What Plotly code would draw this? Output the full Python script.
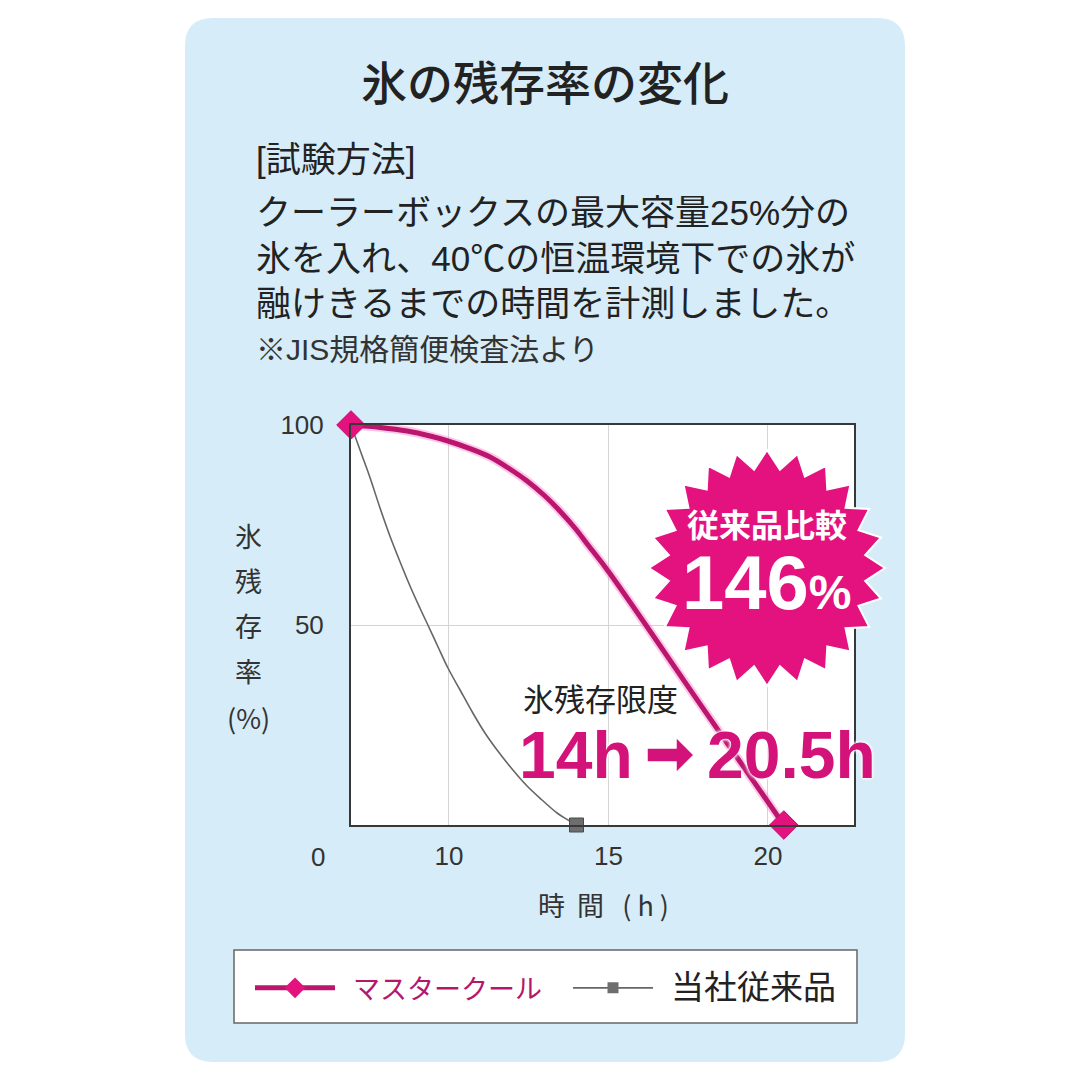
import numpy as np
import plotly.graph_objects as go

W = H = 1080

# ---------------- data ----------------
pink_time = [0, 7.84, 8.69, 9.41, 9.97, 10.66, 11.29, 11.91, 12.45, 13.01, 13.39, 13.95, 14.36,
             14.99, 17.87, 20.5]
pink_ice = [100, 99.4, 98.5, 97.25, 96.0, 94.1, 92.0, 89.0, 86.0, 82.25, 79.25, 74.25, 70.0,
            63.5, 30.3, 0]
gray_time = [0, 7.27, 7.53, 7.84, 8.15, 8.47, 8.78, 9.09, 9.34, 9.66, 9.97, 10.35, 10.75,
             11.13, 11.51, 11.98, 12.45, 12.92, 13.39, 13.70, 14.0]
gray_ice = [100, 92.5, 86.75, 79.25, 72.25, 65.75, 59.75, 54.25, 50.0, 44.5, 39.25, 33.75, 28.0,
            23.0, 18.75, 14.0, 9.75, 6.25, 3.0, 1.4, 0]
x_tick_vals = [10, 15, 20]
y_tick_vals = [50, 100]
series_names = ["マスタークール", "当社従来品"]
limit_label = "氷残存限度"
limit_before, limit_after = "14h", "20.5h"
compare_label, compare_value = "従来品比較", "146"

title_text = "氷の残存率の変化"
method_heading = "[試験方法]"
method_lines = [
    "クーラーボックスの最大容量25%分の",
    "氷を入れ、40℃の恒温環境下での氷が",
    "融けきるまでの時間を計測しました。",
]
note_text = "※JIS規格簡便検査法より"
y_title_chars = ["氷", "残", "存", "率", "(%)"]
x_title = "時&nbsp;&nbsp;間&nbsp;&nbsp;&nbsp;(&nbsp;h&nbsp;)"

# ---------------- styling ----------------
PINK_LINE = "#bb166e"
PINK = "#e3127f"
PINK_TEXT = "#d4137a"
GRAY = "#666666"
TXT = "#222222"
PANEL = "#d6ecf8"
CJK = "Noto Sans CJK JP"
LAT = "Liberation Sans, Noto Sans CJK JP"

# the time axis is broken: 0 h is drawn at the left edge of the frame
AXIS_BREAK = 6.93
X_MAX = 22.7


def brk(ts):
    return [AXIS_BREAK if t == 0 else t for t in ts]


def px(x):
    return x / W


def py(y):
    return 1 - y / H


def pt(x, y):
    return f"{px(x):.5f},{py(y):.5f}"


def rrect(x0, y0, x1, y1, r):
    return (f"M{pt(x0 + r, y0)} L{pt(x1 - r, y0)} Q{pt(x1, y0)} {pt(x1, y0 + r)} "
            f"L{pt(x1, y1 - r)} Q{pt(x1, y1)} {pt(x1 - r, y1)} L{pt(x0 + r, y1)} "
            f"Q{pt(x0, y1)} {pt(x0, y1 - r)} L{pt(x0, y0 + r)} Q{pt(x0, y0)} {pt(x0 + r, y0)} Z")


def star(cx, cy, ro, ri, n):
    ang = np.arange(2 * n) * np.pi / n - np.pi / 2
    rad = np.where(np.arange(2 * n) % 2 == 0, ro, ri)
    xs = cx + rad * np.cos(ang)
    ys = cy + rad * np.sin(ang)
    return "M" + " L".join(pt(a, b) for a, b in zip(xs, ys)) + " Z"


fig = go.Figure()

SPL = dict(shape="spline", smoothing=1.0)
fig.add_trace(go.Scatter(x=brk(pink_time), y=pink_ice, mode="lines",
                         line=dict(color="rgba(255,130,205,0.45)", width=9, **SPL),
                         showlegend=False, hoverinfo="skip"))
fig.add_trace(go.Scatter(x=brk(gray_time), y=gray_ice, mode="lines",
                         line=dict(color=GRAY, width=1.6, **SPL),
                         showlegend=False))
fig.add_trace(go.Scatter(x=brk(pink_time), y=pink_ice, mode="lines",
                         line=dict(color=PINK_LINE, width=5, **SPL),
                         showlegend=False))
# end markers
fig.add_trace(go.Scatter(x=[brk(gray_time)[-1]], y=[gray_ice[-1]], mode="markers",
                         marker=dict(symbol="square", size=14, color="#6e6e6e",
                                     line=dict(color="#4a4a4a", width=1)),
                         showlegend=False, cliponaxis=False))
fig.add_trace(go.Scatter(x=[brk(pink_time)[0], brk(pink_time)[-1]], y=[pink_ice[0], pink_ice[-1]],
                         mode="markers",
                         marker=dict(symbol="diamond", size=22, color=PINK,
                                     line=dict(color="#c0106a", width=1)),
                         showlegend=False, cliponaxis=False))
# legend entries
fig.add_trace(go.Scatter(x=[None], y=[None], mode="lines+markers",
                         name=f"&nbsp;&nbsp;<span style='color:#b3186a;font-size:27px'>{series_names[0]}</span>",
                         line=dict(color=PINK_LINE, width=5),
                         marker=dict(symbol="diamond", size=16, color=PINK)))
fig.add_trace(go.Scatter(x=[None], y=[None], mode="lines+markers",
                         name=f"&nbsp;&nbsp;<span style='font-size:33px'>{series_names[1]}</span>",
                         line=dict(color=GRAY, width=1.6),
                         marker=dict(symbol="square", size=11, color="#6e6e6e")))

shapes = [
    dict(type="path", xref="paper", yref="paper", path=rrect(185, 18, 905, 1062, 28),
         fillcolor=PANEL, line=dict(width=0), layer="below"),
    dict(type="rect", xref="paper", yref="paper", x0=px(351), x1=px(854), y0=py(825), y1=py(425),
         fillcolor="white", line=dict(width=0), layer="below"),
    dict(type="rect", xref="paper", yref="paper", x0=px(234), x1=px(857), y0=py(1023), y1=py(950),
         fillcolor="white", line=dict(color="#666666", width=1.5), layer="below"),
    dict(type="path", xref="paper", yref="paper", path=star(767, 568, 118, 99, 24),
         fillcolor=PINK, line=dict(color="white", width=2), layer="above"),
    # arrow between the two durations
    dict(type="path", xref="paper", yref="paper",
         path=(f"M{pt(647, 748)} L{pt(676, 748)} L{pt(676, 737)} L{pt(694, 755)} "
               f"L{pt(676, 773)} L{pt(676, 762)} L{pt(647, 762)} Z"),
         fillcolor=PINK_TEXT, line=dict(color="white", width=1.5), layer="above"),
]

ann = []


def add_text(text, x, y, size, color=TXT, family=CJK, xanchor="center", weight="normal", shadow=None,
             yanchor="middle", align="center"):
    f = dict(size=size, color=color, family=family, weight=weight)
    if shadow:
        f["shadow"] = shadow
    ann.append(dict(text=text, x=px(x), y=py(y), xref="paper", yref="paper", showarrow=False,
                    xanchor=xanchor, yanchor=yanchor, align=align, font=f))


add_text(title_text, 545, 80, 46, weight=500)
add_text(method_heading, 254, 159, 35, family=LAT, xanchor="left", align="left")
for line, yy in zip(method_lines, [212, 258, 303]):
    add_text(line, 254, yy, 35, family=LAT, xanchor="left", align="left")
add_text(note_text, 254, 349, 30, color="#333333", family=LAT, xanchor="left", align="left")

for ch, yy in zip(y_title_chars, [535, 580, 625, 670, 717]):
    add_text(ch, 248, yy, 27, color="#333333")
add_text("0", 318, 857, 26, color="#333333", family=LAT)
add_text(x_title, 603, 905, 27, color="#333333")

add_text(limit_label, 600, 697, 31)
halo = "0 0 3px white, 0 0 3px white, 0 0 4px white"
add_text(limit_before, 576, 755, 66, color=PINK_TEXT, family=LAT, weight="bold", shadow=halo)
add_text(limit_after, 791, 755, 66, color=PINK_TEXT, family=LAT, weight="bold", shadow=halo)

# badge
add_text(compare_label, 767, 526, 32, color="white", family=LAT, weight="bold")
add_text(f"{compare_value}<span style='font-size:48px'>%</span>", 767, 582, 76,
         color="white", family=LAT, weight="bold")

fig.update_layout(
    width=W, height=H, autosize=False,
    margin=dict(l=0, r=0, t=0, b=0, pad=0, autoexpand=False),
    paper_bgcolor="white", plot_bgcolor="rgba(0,0,0,0)",
    shapes=shapes, annotations=ann,
    xaxis=dict(domain=[px(351), px(854)], range=[AXIS_BREAK, X_MAX], tickvals=x_tick_vals,
               showgrid=True, gridcolor="#d4d4d4", gridwidth=1, zeroline=False,
               showline=True, mirror=True, linecolor="#383838", linewidth=2, ticks="",
               ticklabelstandoff=7, tickfont=dict(size=26, color="#333333", family=LAT),
               fixedrange=True, automargin=False),
    yaxis=dict(domain=[py(825), py(425)], range=[0, 100], tickvals=y_tick_vals,
               showgrid=True, gridcolor="#d4d4d4", gridwidth=1, zeroline=False,
               showline=True, mirror=True, linecolor="#383838", linewidth=2, ticks="",
               ticklabelstandoff=20, tickfont=dict(size=26, color="#333333", family=LAT),
               fixedrange=True, automargin=False),
    legend=dict(orientation="h", x=px(250), xanchor="left", y=py(988), yanchor="middle",
                bgcolor="rgba(0,0,0,0)", borderwidth=0, itemwidth=80,
                entrywidth=223, entrywidthmode="pixels",
                font=dict(size=29, family=CJK, color=TXT), itemclick=False, itemdoubleclick=False),
    showlegend=True,
)

fig.write_html("out.html")
